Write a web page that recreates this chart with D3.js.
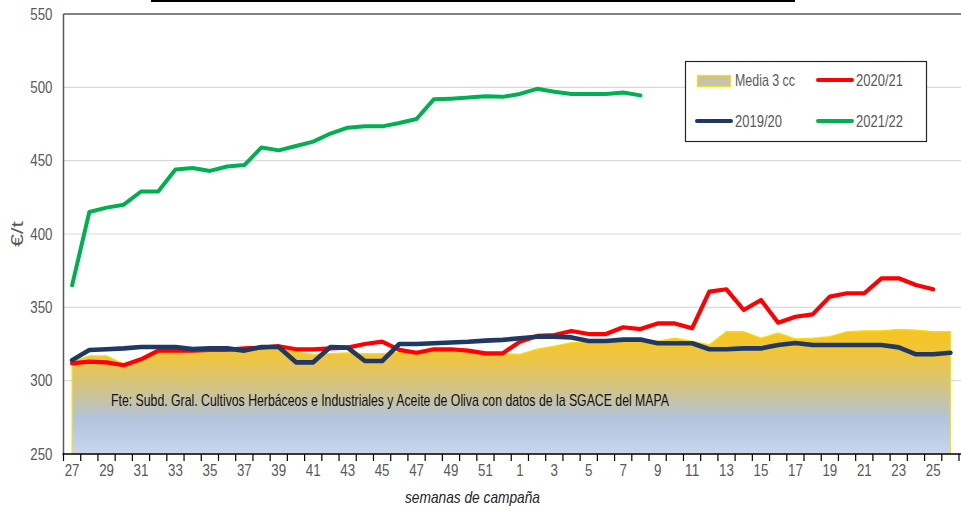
<!DOCTYPE html>
<html>
<head>
<meta charset="utf-8">
<script src="https://cdn.jsdelivr.net/npm/d3@7"></script>
<style>
  html, body { margin: 0; padding: 0; background: #fff; }
  svg { display: block; }
  text { font-family: "Liberation Sans Narrow", "Arial Narrow", "Liberation Sans", sans-serif; }
</style>
</head>
<body>
<svg id="chart" width="961" height="512"></svg>
<script>
// Campaign weeks: 27..52, then 1..26
const weeks = [27,28,29,30,31,32,33,34,35,36,37,38,39,40,41,42,43,44,45,46,47,48,49,50,51,52,
               1,2,3,4,5,6,7,8,9,10,11,12,13,14,15,16,17,18,19,20,21,22,23,24,25,26];

// Average of the three previous campaigns (€/t)
const media3cc = [313,317,317,311.5,314.5,319.5,320,320,320.5,321,321,322,323,319.5,318,318.5,319,318.5,318.5,319.5,
                  320,320,320.5,320,319,318.5,318,321.5,323.5,326,326.5,326.5,327,327.5,327,329,327,324.5,333.5,333.5,
                  329,332.5,328.5,329,330,333.5,334,334,335,334.5,333.5,333.5];

const s2020_21 = [311.8,313,312.5,310.5,314.6,320.5,320.5,320.5,321,321,322,322.5,323.5,321.4,321.4,322,322.5,325,326.6,321,
                  319,321.4,321.4,320.5,318.6,318.6,326.6,330.5,331.1,333.9,331.8,331.8,336.4,335.2,339,339,335.7,360.7,362.3,348.2,
                  355,339.5,343.6,345.2,357.3,359.6,359.6,369.8,369.8,365.2,362.3];

const s2019_20 = [314,320.9,321.4,322,323,323,323,321.5,322,322,320.5,323,323,312.5,312.5,323,322.5,313.4,313.4,325,
                  325,325.5,326,326.5,327.3,327.8,328.9,330,330,329.5,327,327,328,328,325.5,325.5,325.5,321.4,321.4,322,
                  322,324.3,325.7,324.3,324.3,324.3,324.3,324.3,322.7,318,318,319];

const s2021_22 = [365,415,418,420,429,429,444,445,443,446,447,459,457,460,463,468.5,472.5,473.4,473.4,475.7,
                  478.4,491.8,492.3,493,494,493.5,495.5,499,497,495.5,495.5,495.5,496.5,494.5];

const yTicks = [250,300,350,400,450,500,550];

const svg = d3.select("#chart");
const plotL = 63.5, plotR = 959, plotT = 14, plotB = 454;
const digitW = 7.4; // condensed digit advance

const x = d3.scaleBand().domain(weeks).range([plotL, plotR]).padding(0);
const bw = x.bandwidth();
const cx = w => x(w) + bw / 2;
const y = d3.scaleLinear().domain([250, 550]).range([plotB, plotT]);

// Title frame remnant
svg.append("rect").attr("x", 151).attr("y", 0).attr("width", 644).attr("height", 2).attr("fill", "#000");

// Gradient for the average area
const defs = svg.append("defs");
const grad = defs.append("linearGradient").attr("id", "mediaGrad")
  .attr("gradientUnits", "userSpaceOnUse")
  .attr("x1", 0).attr("x2", 0).attr("y1", y(336)).attr("y2", y(250));
[["0%", "#F8C51C"], ["25%", "#EDC544"], ["50%", "#CFC48C"], ["72%", "#B2C3DC"], ["100%", "#C8D6EE"]]
  .forEach(([o, c]) => grad.append("stop").attr("offset", o).attr("stop-color", c));
const gradL = defs.append("linearGradient").attr("id", "legGrad")
  .attr("x1", 0).attr("x2", 0).attr("y1", 0).attr("y2", 1);
[["0%", "#D8C070"], ["100%", "#B8C4D8"]]
  .forEach(([o, c]) => gradL.append("stop").attr("offset", o).attr("stop-color", c));

// Grid lines
svg.append("g").selectAll("line").data(yTicks.filter(v => v > 250 && v < 550)).join("line")
  .attr("x1", plotL).attr("x2", 961).attr("y1", d => y(d)).attr("y2", d => y(d))
  .attr("stroke", "#D9D9D9").attr("stroke-width", 1.2);

// Average area
const area = d3.area().x((d, i) => cx(weeks[i])).y0(y(250)).y1(d => y(d));
svg.append("path").datum(media3cc).attr("d", area)
  .attr("fill", "url(#mediaGrad)").attr("stroke", "#F5DF10").attr("stroke-width", 1.2);

// Frame: top and left in grey, bottom axis in black
svg.append("line").attr("x1", plotL).attr("x2", 961).attr("y1", plotT).attr("y2", plotT)
  .attr("stroke", "#595959").attr("stroke-width", 1.5);
svg.append("line").attr("x1", plotL).attr("x2", plotL).attr("y1", plotT).attr("y2", plotB)
  .attr("stroke", "#595959").attr("stroke-width", 1.5);

// X axis
const xAxis = d3.axisBottom(x).tickSize(0).tickPadding(11)
  .tickValues(weeks.filter((w, i) => i % 2 === 0));
const gx = svg.append("g").attr("transform", `translate(0,${plotB})`).call(xAxis);
gx.select(".domain").remove();
gx.selectAll("text").attr("fill", "#595959").style("font-size", "16px")
  .attr("textLength", d => String(d).length * digitW).attr("lengthAdjust", "spacingAndGlyphs");
svg.append("g").selectAll("line").data(weeks.concat(["end"])).join("line")
  .attr("x1", d => d === "end" ? plotR : x(d)).attr("x2", d => d === "end" ? plotR : x(d))
  .attr("y1", plotB).attr("y2", plotB + 7)
  .attr("stroke", "#000").attr("stroke-width", 1.2);
svg.append("line").attr("x1", plotL - 1).attr("x2", 961).attr("y1", plotB).attr("y2", plotB)
  .attr("stroke", "#000").attr("stroke-width", 1.6);

// Y axis labels
const yAxis = d3.axisLeft(y).tickValues(yTicks).tickSize(0).tickPadding(11);
const gy = svg.append("g").attr("transform", `translate(${plotL},0)`).call(yAxis);
gy.select(".domain").remove();
gy.selectAll("text").attr("fill", "#595959").style("font-size", "16px")
  .attr("textLength", d => String(d).length * digitW).attr("lengthAdjust", "spacingAndGlyphs");

// Series lines
const line = d3.line().x((d, i) => cx(weeks[i])).y(d => y(d));
const series = [
  { data: s2020_21, color: "#FF0000", w: 4.2 },
  { data: s2019_20, color: "#1F3864", w: 4.6 },
  { data: s2021_22, color: "#00B050", w: 4.0 }
];
series.forEach(s => {
  svg.append("path").datum(s.data).attr("d", line)
    .attr("fill", "none").attr("stroke", s.color).attr("stroke-width", s.w)
    .attr("stroke-linejoin", "round").attr("stroke-linecap", "round");
});

// Source note
svg.append("text").attr("x", 111).attr("y", 406)
  .attr("textLength", 558).attr("lengthAdjust", "spacingAndGlyphs")
  .style("font-size", "17px").attr("fill", "#111")
  .text("Fte: Subd. Gral. Cultivos Herbáceos e Industriales y Aceite de Oliva con datos de la SGACE del MAPA");

// Axis titles
svg.append("text").attr("x", 405).attr("y", 503)
  .attr("textLength", 135).attr("lengthAdjust", "spacingAndGlyphs")
  .style("font-size", "17px").style("font-style", "italic").attr("fill", "#262626")
  .text("semanas de campaña");
svg.append("text").attr("transform", "translate(23,247) rotate(-90)")
  .attr("textLength", 26).attr("lengthAdjust", "spacingAndGlyphs")
  .style("font-size", "16px").attr("fill", "#595959").text("€/t");

// Legend
const lg = svg.append("g");
lg.append("rect").attr("x", 685.5).attr("y", 61.5).attr("width", 241).attr("height", 80)
  .attr("fill", "#fff").attr("stroke", "#262626").attr("stroke-width", 1.2);
lg.append("rect").attr("x", 697.5).attr("y", 75.5).attr("width", 33).attr("height", 11)
  .attr("fill", "url(#legGrad)").attr("stroke", "#F0E020").attr("stroke-width", 1.3);
const legItems = [
  { label: "Media 3 cc", lx: 735, ly: 86, len: 60, swatch: null },
  { label: "2020/21", lx: 856, ly: 86, len: 47, swatch: { x1: 818, x2: 852, y: 80, c: "#FF0000" } },
  { label: "2019/20", lx: 735, ly: 127, len: 47, swatch: { x1: 697, x2: 731, y: 121, c: "#1F3864" } },
  { label: "2021/22", lx: 856, ly: 127, len: 47, swatch: { x1: 818, x2: 852, y: 121, c: "#00B050" } }
];
legItems.forEach(it => {
  if (it.swatch) {
    lg.append("line").attr("x1", it.swatch.x1).attr("x2", it.swatch.x2)
      .attr("y1", it.swatch.y).attr("y2", it.swatch.y)
      .attr("stroke", it.swatch.c).attr("stroke-width", 4).attr("stroke-linecap", "round");
  }
  lg.append("text").attr("x", it.lx).attr("y", it.ly).style("font-size", "17px")
    .attr("textLength", it.len).attr("lengthAdjust", "spacingAndGlyphs")
    .attr("fill", "#595959").text(it.label);
});
</script>
</body>
</html>
